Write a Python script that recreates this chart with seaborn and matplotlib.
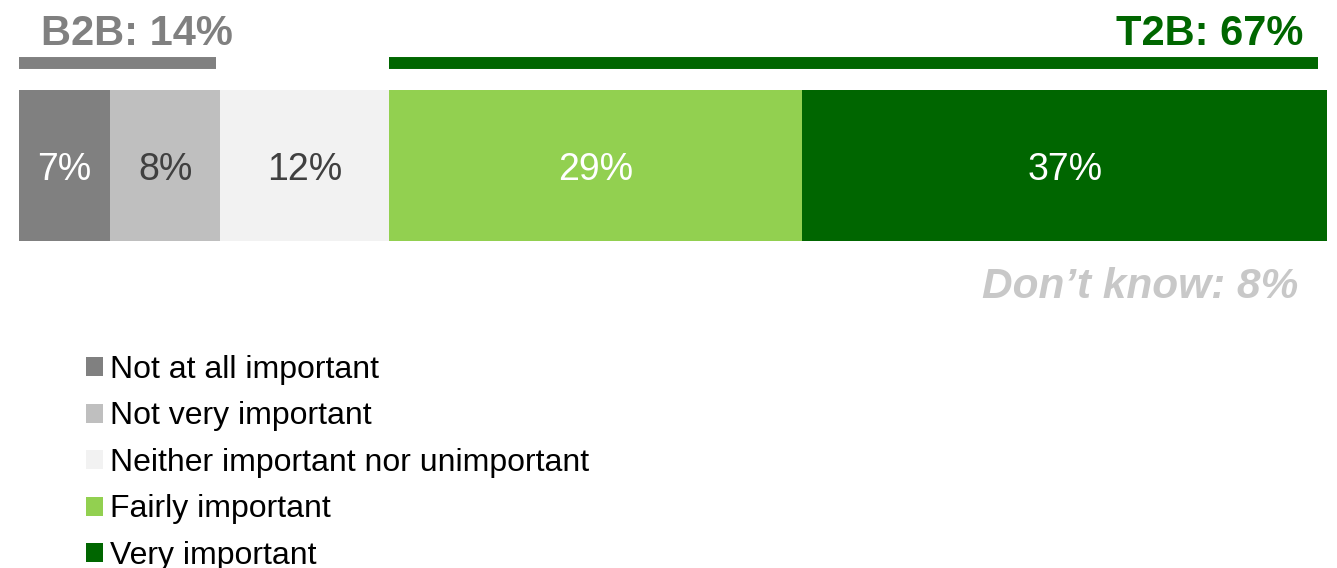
import matplotlib
matplotlib.use("Agg")
import matplotlib.pyplot as plt
import matplotlib.transforms as mtransforms
from matplotlib.patches import Patch
import numpy as np
import pandas as pd
import seaborn as sns

# ---- data ----
categories = ["Not at all important", "Not very important",
              "Neither important nor unimportant", "Fairly important", "Very important"]
values = [6.5, 7.8, 12.0, 29.4, 37.3]
value_labels = ["7%", "8%", "12%", "29%", "37%"]
b2b_label = "B2B: 14%"
b2b_value = 14.0
t2b_label = "T2B: 67%"
dont_know_label = "Don\u2019t know: 8%"

# ---- style ----
colors = ["#808080", "#BFBFBF", "#F2F2F2", "#92D050", "#006600"]
label_colors = ["white", "#404040", "#404040", "white", "white"]

sns.set_style("white")
plt.rcParams["font.family"] = ["Liberation Sans", "DejaVu Sans"]

W, H = 1337, 568
fig = plt.figure(figsize=(W / 100, H / 100), dpi=100)
ax = fig.add_axes([19 / W, (H - 241) / H, 1308 / W, 151 / H])

cum = np.cumsum(values)
total = cum[-1]
# overlay cumulative bars, largest first
for i in range(len(values) - 1, -1, -1):
    df = pd.DataFrame({"val": [cum[i]], "q": ["Q"]})
    sns.barplot(data=df, x="val", y="q", orient="h", color=colors[i],
                width=1.0, saturation=1, linewidth=0, errorbar=None, ax=ax)

ax.set_xlim(0, total)
ax.set_ylim(0.5, -0.5)
ax.axis("off")

starts = cum - np.array(values)
for s, v, lab, lc in zip(starts, values, value_labels, label_colors):
    ax.text(s + v / 2, 0.03, lab, ha="center", va="center", fontsize=27, color=lc)

# header lines (x in data, y in figure)
blend = mtransforms.blended_transform_factory(ax.transData, fig.transFigure)
px_per_unit = 1308 / total
ly = 1 - 63 / H
ax.plot([0, b2b_value], [ly, ly], color="#808080", lw=8.6,
        solid_capstyle="butt", transform=blend, clip_on=False)
ax.plot([cum[2], total - 9 / px_per_unit], [ly, ly], color="#006600", lw=8.6,
        solid_capstyle="butt", transform=blend, clip_on=False)

fig.text(136.5 / W, 1 - 45 / H, b2b_label, ha="center", va="baseline",
         fontsize=30, fontweight="bold", color="#808080")
fig.text(1303 / W, 1 - 45 / H, t2b_label, ha="right", va="baseline",
         fontsize=30, fontweight="bold", color="#006600")
fig.text(1298 / W, 1 - 298 / H, dont_know_label, ha="right", va="baseline",
         fontsize=30.5, fontweight="bold", fontstyle="italic", color="#C8C8C8")

handles = [Patch(facecolor=c, edgecolor="none", label=lab) for c, lab in zip(colors, categories)]
fig.legend(handles=handles, loc="upper left", bbox_to_anchor=(86 / W, 1 - 355 / H),
           frameon=False, fontsize=23, labelcolor="black", handlelength=0.54, handleheight=0.54,
           handletextpad=0.22, labelspacing=0.515, borderpad=0, borderaxespad=0)

fig.savefig("out.png", dpi=100)
